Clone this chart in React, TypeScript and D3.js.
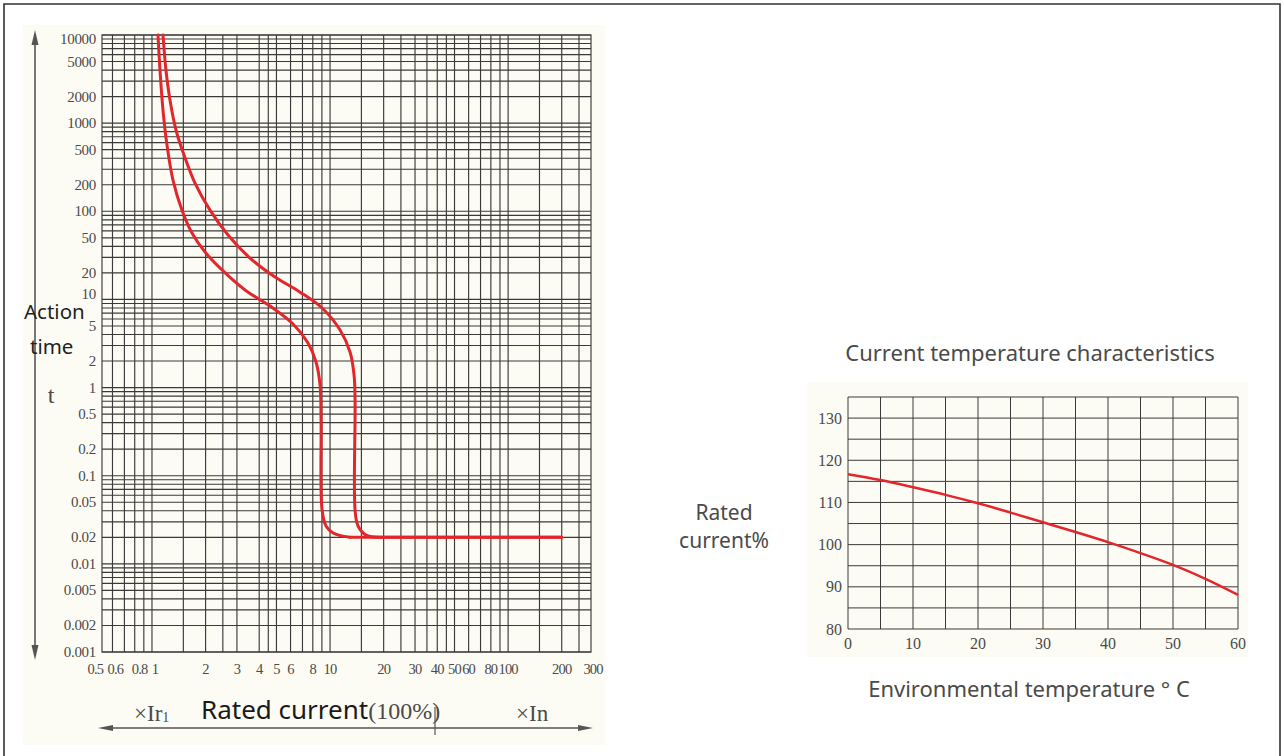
import * as d3 from "d3";

// ---- trip characteristic (left chart) ----
const timeTicks = [10000, 5000, 2000, 1000, 500, 200, 100, 50, 20, 10, 5, 2, 1, 0.5, 0.2, 0.1, 0.05, 0.02, 0.01, 0.005, 0.002, 0.001];
const currentTicks = [0.5, 0.6, 0.8, 1, 2, 3, 4, 5, 6, 8, 10, 20, 30, 40, 50, 60, 80, 100, 200, 300];
const currentGrid = [0.6, 0.7, 0.8, 0.9, 1, 1.5, 2, 2.5, 3, 4, 4.5, 5, 6, 7, 8, 9, 10, 15, 20, 25, 30, 35, 40, 45, 50, 60, 70, 80, 90, 100, 150, 200, 250];

// curve points: multiple of rated current, tripping time (s); last point = end of the 0.02 s tail
const lowerCurrent = [1.081, 1.109, 1.153, 1.214, 1.312, 1.474, 1.678, 1.986, 2.474, 3.331, 4.601, 6.196, 7.52, 8.34, 8.786, 8.9, 9.02, 9.495, 10.4, 12.95, 200];
const lowerTime = [10000, 4009, 1409, 565, 226, 103, 56.7, 34.5, 21.6, 12.8, 8.42, 5.26, 3.2, 1.95, 1.07, 0.429, 0.0408, 0.0269, 0.0224, 0.02, 0.02];
const upperCurrent = [1.153, 1.198, 1.262, 1.364, 1.513, 1.744, 2.118, 2.673, 3.553, 4.91, 6.785, 9.02, 11.38, 12.95, 13.64, 13.82, 13.82, 14.36, 15.93, 19.1, 200];
const upperTime = [10000, 4009, 1830, 836, 435, 209, 103, 53.8, 29.5, 17.96, 12.1, 7.99, 4.5, 2.53, 1.39, 0.72, 0.0408, 0.0269, 0.0212, 0.02, 0.02];

// ---- current / temperature (right chart) ----
const tempC = [0, 5, 10, 15, 20, 25, 30, 35, 40, 45, 50, 55, 60];
const ratedPct = [116.7, 115.3, 113.6, 111.8, 109.8, 107.6, 105.3, 103.0, 100.6, 98.0, 95.2, 91.9, 88.1];
const tempTicks = [0, 10, 20, 30, 40, 50, 60];
const pctTicks = [80, 90, 100, 110, 120, 130];

const RED = "#e3262c";
const GRID = "#3a3a3a";
const LABEL = "#4a4a4a";
const SERIF = "'Liberation Serif', 'DejaVu Serif', serif";
const SANS = "'Noto Sans', 'Open Sans', sans-serif";

// small label nudges where the printed labels are crowded
const xLabelShift: Record<number, number> = { 0.5: -3, 0.6: 3, 0.8: 5, 1: 3 };
const yLabelShift: Record<number, number> = { 10000: 4, 10: -5 };

export default function App() {
  // left chart scales
  const x = d3.scaleLog().domain([0.524, 292]).range([102, 591]);
  const y = d3.scaleLog().domain([10000, 0.001]).range([35, 652]);
  const bend = d3
    .line<[number, number]>()
    .x((d) => x(d[0]))
    .y((d) => y(d[1]))
    .curve(d3.curveCatmullRom.alpha(0.5));
  const tail = d3
    .line<[number, number]>()
    .x((d) => x(d[0]))
    .y((d) => y(d[1]));

  const curves = [
    lowerCurrent.map((c, i) => [c, lowerTime[i]] as [number, number]),
    upperCurrent.map((c, i) => [c, upperTime[i]] as [number, number]),
  ];

  // right chart scales
  const xr = d3.scaleLinear().domain([0, 60]).range([848, 1238]);
  const yr = d3.scaleLinear().domain([80, 135]).range([629, 397]);
  const derate = d3
    .line<number>()
    .x((d, i) => xr(tempC[i]))
    .y((d) => yr(d))
    .curve(d3.curveMonotoneX);

  return (
    <div style={{ position: "absolute", left: 0, top: 0 }}>
      <svg width={1284} height={756} style={{ display: "block", background: "#fff" }}>
        {/* frame */}
        <path d="M4,760 V4 H1280 V760" fill="none" stroke="#333" strokeWidth={1.6} />

        {/* ---------- left chart ---------- */}
        <rect x={23} y={25} width={582} height={720} fill="#fdfcf4" />
        <g stroke={GRID} strokeWidth={1.15}>
          {y.ticks().map((t) => (
            <line key={"h" + t} x1={x.range()[0]} x2={x.range()[1]} y1={y(t)} y2={y(t)} />
          ))}
          {currentGrid.map((c) => (
            <line key={"v" + c} x1={x(c)} x2={x(c)} y1={y.range()[0]} y2={y.range()[1]} />
          ))}
          <rect x={102} y={35} width={489} height={617} fill="none" />
        </g>
        <g fontFamily={SERIF} fontSize={15} fill={LABEL}>
          {timeTicks.map((t) => (
            <text key={"yt" + t} x={96} y={y(t) + (yLabelShift[t] ?? 0)} textAnchor="end" dominantBaseline="central" letterSpacing={-0.3}>
              {t}
            </text>
          ))}
        </g>
        <g fontFamily={SERIF} fontSize={14.5} fill={LABEL}>
          {currentTicks.map((c) => (
            <text key={"xt" + c} x={x(c) + (xLabelShift[c] ?? 0)} y={669} textAnchor="middle" dominantBaseline="central" letterSpacing={-0.8}>
              {c}
            </text>
          ))}
        </g>
        {curves.map((pts, i) => (
          <g key={"c" + i} fill="none" stroke={RED} strokeWidth={3} strokeLinecap="round">
            <path d={bend(pts.slice(0, -1)) ?? ""} />
            <path d={tail(pts.slice(-2)) ?? ""} />
          </g>
        ))}

        {/* vertical double arrow */}
        <g stroke="#555" fill="#555">
          <line x1={35} x2={35} y1={40} y2={652} strokeWidth={1.6} />
          <path d="M35,30 L31.5,45 L38.5,45 Z" stroke="none" />
          <path d="M35,660 L31.5,645 L38.5,645 Z" stroke="none" />
        </g>
        <text x={24} y={319} fontFamily={SANS} fontSize={20.5} fill="#1f1f1f">Action</text>
        <text x={30} y={354} fontFamily={SANS} fontSize={20.5} fill="#1f1f1f">time</text>
        <text x={51} y={403} fontFamily={SERIF} fontSize={24} fill={LABEL} textAnchor="middle">t</text>

        {/* horizontal arrow */}
        <g stroke="#555" fill="#555">
          <line x1={106} x2={586} y1={728} y2={728} strokeWidth={1.4} />
          <path d="M98,728 L113,725 L113,731 Z" stroke="none" />
          <path d="M593,728 L578,725 L578,731 Z" stroke="none" />
          <line x1={435} x2={435} y1={707} y2={735} strokeWidth={1.2} />
        </g>
        <text x={134} y={721} fontFamily={SERIF} fontSize={23} fill={LABEL}>
          ×Ir<tspan fontSize={14} dy={1}>1</tspan>
        </text>
        <text x={201} y={719} fontFamily={SANS} fontSize={26} fill="#1a1a1a">
          Rated current
          <tspan fontFamily={SERIF} fontSize={24} fill={LABEL}>(100%)</tspan>
        </text>
        <text x={516} y={721} fontFamily={SERIF} fontSize={23} fill={LABEL}>×In</text>

        {/* ---------- right chart ---------- */}
        <text x={1030} y={361} textAnchor="middle" fontFamily={SANS} fontSize={22} fill="#4a4a4a">
          Current temperature characteristics
        </text>
        <rect x={807} y={382} width={441} height={275} fill="#fdfcf4" />
        <g stroke={GRID} strokeWidth={1}>
          {yr.ticks(11).map((v) => (
            <line key={"rh" + v} x1={xr(0)} x2={xr(60)} y1={yr(v)} y2={yr(v)} />
          ))}
          {xr.ticks(12).map((v) => (
            <line key={"rv" + v} x1={xr(v)} x2={xr(v)} y1={yr(80)} y2={yr(135)} />
          ))}
        </g>
        <g fontFamily={SERIF} fontSize={16} fill={LABEL}>
          {pctTicks.map((v) => (
            <text key={"ry" + v} x={842} y={yr(v)} textAnchor="end" dominantBaseline="central">{v}</text>
          ))}
          {tempTicks.map((v) => (
            <text key={"rx" + v} x={xr(v)} y={643} textAnchor="middle" dominantBaseline="central">{v}</text>
          ))}
        </g>
        <path d={derate(ratedPct) ?? ""} fill="none" stroke={RED} strokeWidth={2.5} />
        <text x={724} y={520} textAnchor="middle" fontFamily={SANS} fontSize={21} fill="#4a4a4a">Rated</text>
        <text x={724} y={548} textAnchor="middle" fontFamily={SANS} fontSize={21} fill="#4a4a4a">current%</text>
        <text x={1029} y={697} textAnchor="middle" fontFamily={SANS} fontSize={22} fill="#4a4a4a">
          Environmental temperature ° C
        </text>
      </svg>
    </div>
  );
}
